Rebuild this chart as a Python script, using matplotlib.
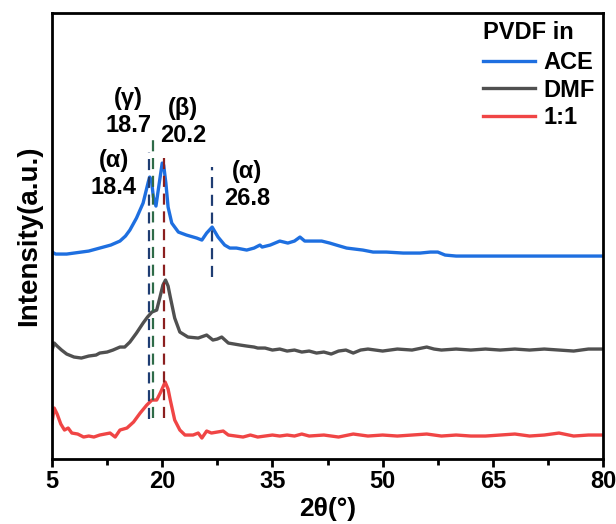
import matplotlib
matplotlib.use("Agg")
import matplotlib.pyplot as plt

plt.rcParams['font.family'] = ['Liberation Sans', 'DejaVu Sans']
plt.rcParams['font.weight'] = 'bold'

# ACE
ace_x = [5, 5.5, 6, 7, 8, 9, 10, 11, 12, 13, 14.25, 15.0, 15.6, 16.5, 17.4, 18.1, 18.3, 18.55, 18.8, 19.15,
         19.6, 20.0, 20.2, 20.5, 20.8, 21.3, 22.2, 23.3, 24.7, 25.4, 26.05, 26.8, 27.6, 28.5, 29.2, 30.1,
         31.5, 32.5, 33.3, 33.6, 34.7, 36.0, 37.1, 38.0, 38.75, 39.4, 40.5, 41.7, 42.8, 43.7, 45.1,
         47.3, 48.7, 50.5, 52.8, 55.1, 56.5, 57.5, 58.5, 60, 62, 65, 70, 75, 80]
ace_y = [207, 205, 205, 205, 206, 207, 208, 210, 212, 214, 218, 223, 229, 241, 256, 277, 282, 278, 262, 253,
         276, 296, 294, 276, 252, 236, 227, 224, 221, 219, 226, 232, 222, 214, 211, 211,
         209, 211, 214, 212, 214, 218, 216, 218, 222, 218, 218, 218, 216, 214, 211,
         209, 207, 207, 206, 206, 207, 207, 204, 203, 203, 203, 203, 203, 203]

# DMF
dmf_x = [5, 5.3, 5.7, 6.3, 7, 8, 9, 10, 11, 11.5, 12.5, 13.3, 14.25, 14.9, 15.6, 16.5, 17.4, 18.0, 18.6, 19.25,
         19.7, 20.1, 20.45, 20.8, 21.1, 21.7, 22.4, 23.5, 24.9, 26.05, 26.9, 27.5, 28.1, 29, 30.6, 31.5, 32.5,
         33, 34, 35, 36, 37, 38, 39, 40, 41, 42, 43, 44, 45, 46, 47, 48, 50, 52, 54, 56, 57, 58, 60, 62,
         64, 66, 68, 70, 72, 74, 76, 78, 80]
dmf_y = [109, 116, 113, 109, 105, 102, 101, 103, 104, 106, 107, 109, 112, 112, 117, 126, 136, 142, 147, 149,
         162, 174, 179, 173, 162, 141, 127, 122, 121, 124, 119, 120, 122, 116, 114, 113, 112,
         111, 111, 109, 110, 108, 109, 107, 108, 106, 107, 105, 108, 109, 106, 109, 110, 108, 110, 109, 112, 110, 109, 110, 109,
         110, 109, 110, 109, 110, 109, 108, 110, 110]

# 1:1
mix_x = [5, 5.3, 5.7, 6.2, 6.7, 7.2, 7.7, 8.5, 9.3, 10, 10.7, 11.5, 12.2, 12.9, 13.6, 14.25, 15.2, 16.1, 17.0, 17.9,
         18.6, 19.25, 19.8, 20.4, 20.8, 21.1, 21.7, 22.4, 23.1, 24.2, 24.9, 25.4, 26.05, 26.7, 27.5, 28.3, 29, 30, 31,
         32, 33, 34, 35, 36, 37, 38, 39, 40, 42, 44, 46, 48, 50, 52, 54, 56, 58, 60, 62,
         64, 66, 68, 70, 72, 74, 76, 78, 80]
mix_y = [36, 51, 45, 35, 29, 31, 26, 25, 22, 23, 22, 24, 25, 26, 22, 29, 31, 37, 46, 54,
         59, 59, 67, 77, 70, 59, 39, 29, 24, 24, 26, 21, 28, 26, 27, 28, 24, 23, 22,
         24, 22, 23, 24, 23, 24, 23, 25, 23, 24, 22, 25, 23, 24, 23, 24, 25, 23, 24, 23,
         23, 24, 25, 23, 24, 26, 23, 24, 24]

# peak markers: position, line bottom, line top, colour
peak_pos = [18.25, 18.8, 20.25, 26.8]
peak_lo = [40, 41, 41, 182]
peak_hi = [307, 319, 306, 292]
peak_col = ['#1F3D73', '#2E6B48', '#8B1F1F', '#1F3D73']

# labels
lab_text = ['(\u03b1)\n18.4', '(\u03b3)\n18.7', '(\u03b2)\n20.2', '(\u03b1)\n26.8']
lab_x = [13.4, 15.4, 22.8, 31.5]
lab_y = [285, 347, 337, 274]

fig, ax = plt.subplots(figsize=(6.16, 5.24), dpi=100)
fig.subplots_adjust(left=0.0844, right=0.979, bottom=0.124, top=0.975)

ax.plot(ace_x, ace_y, color='#1E6FE0', lw=2.4, label='ACE')
ax.plot(dmf_x, dmf_y, color='#505050', lw=2.4, label='DMF')
ax.plot(mix_x, mix_y, color='#F04545', lw=2.4, label='1:1')

for p, lo, hi, c in zip(peak_pos, peak_lo, peak_hi, peak_col):
    ax.plot([p, p], [lo, hi], color=c, lw=1.6, dashes=(5, 3))

for t, x, y in zip(lab_text, lab_x, lab_y):
    ax.text(x, y, t, ha='center', va='center', fontsize=17, fontweight='bold', linespacing=1.25)

ax.set_xlim(5, 80)
ax.set_ylim(0, 446)
ax.set_xticks([5, 20, 35, 50, 65, 80])
ax.set_xticks([12.5, 27.5, 42.5, 57.5, 72.5], minor=True)
ax.set_yticks([])
ax.tick_params(axis='x', which='major', length=6, width=2, labelsize=17, pad=2)
ax.tick_params(axis='x', which='minor', length=4, width=2)
for s in ax.spines.values():
    s.set_linewidth(2)

ax.set_xlabel('2\u03b8(\u00b0)', fontsize=19, fontweight='bold', labelpad=3)
ax.set_ylabel('Intensity(a.u.)', fontsize=20, fontweight='bold', labelpad=7)

leg = ax.legend(title='PVDF in', loc='upper right', frameon=False, fontsize=17,
                title_fontproperties={'size': 17, 'weight': 'bold'},
                handlelength=2.2, handletextpad=0.35, labelspacing=0.18,
                borderaxespad=0.2, borderpad=0.15)
leg._legend_box.align = 'left'
leg._legend_box.sep = 5

plt.savefig('out.png', dpi=100)
